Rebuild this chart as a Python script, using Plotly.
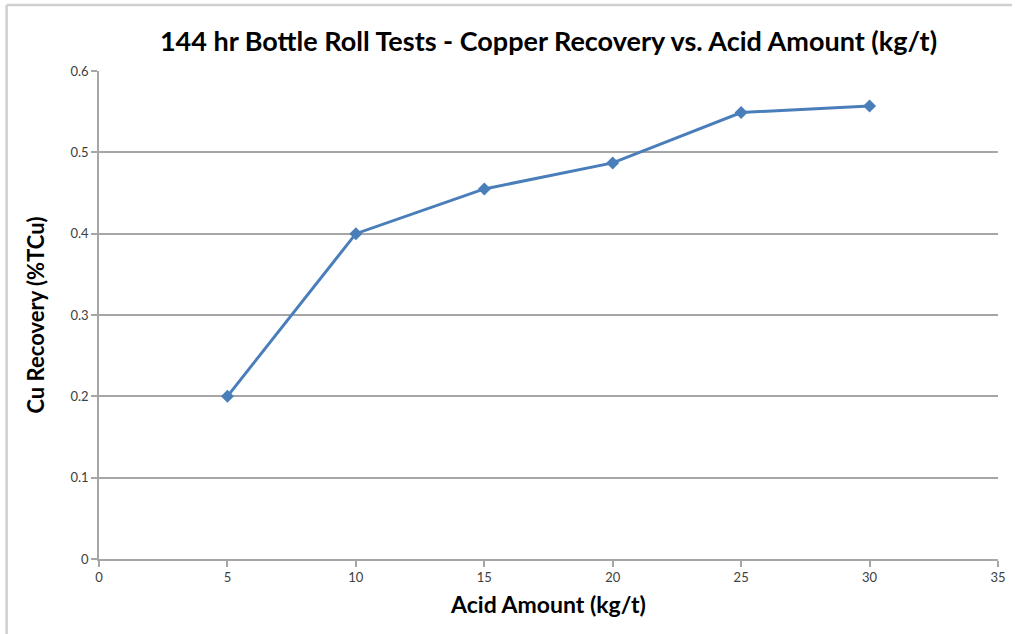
import plotly.graph_objects as go

# Acid addition (kg/t) and copper recovery (fraction of total Cu)
acid_kg_t = [5, 10, 15, 20, 25, 30]
cu_recovery = [0.200, 0.400, 0.455, 0.487, 0.549, 0.557]

x_ticks = [0, 5, 10, 15, 20, 25, 30, 35]
y_ticks = [0, 0.1, 0.2, 0.3, 0.4, 0.5, 0.6]

W, H = 1018, 634
L, R, T, B = 99, 14, 71, 75
pw, ph = W - L - R, H - T - B

def px_x(px):
    return (px - L) / pw

def px_y(py):
    return (H - B - py) / ph

line_color = "#4A7EBB"
fnt = "Lato, 'Open Sans', sans-serif"

fig = go.Figure()
fig.add_trace(go.Scatter(
    x=acid_kg_t, y=cu_recovery, mode="lines+markers",
    line=dict(color=line_color, width=3),
    marker=dict(symbol="diamond", size=10, color=line_color),
    showlegend=False, cliponaxis=False,
))

fig.update_layout(
    width=W, height=H,
    margin=dict(l=L, r=R, t=T, b=B),
    paper_bgcolor="white", plot_bgcolor="white",
    title=dict(text="<b>144 hr Bottle Roll Tests - Copper Recovery vs. Acid Amount (kg/t)</b>",
               xref="paper", x=0.5, xanchor="center", y=1 - 42 / H, yanchor="middle",
               font=dict(family=fnt, size=27, color="#000000")),
    xaxis=dict(range=[0, 35], tickvals=x_ticks, ticktext=[str(v) for v in x_ticks],
               showgrid=False, zeroline=False, showline=True, linecolor="#A6A6A6", linewidth=1.5,
               ticks="outside", ticklen=6, tickcolor="#A6A6A6", tickwidth=1.5,
               tickfont=dict(family=fnt, size=13, color="#404040"),
               title=dict(text="<b>Acid Amount (kg/t)</b>", standoff=13,
                          font=dict(family=fnt, size=23, color="#000000"))),
    yaxis=dict(range=[0, 0.6], tickvals=y_ticks, ticktext=["0", "0.1", "0.2", "0.3", "0.4", "0.5", "0.6"],
               showgrid=True, gridcolor="#A6A6A6", gridwidth=1.5, zeroline=False,
               showline=True, linecolor="#A6A6A6", linewidth=1.5,
               ticks="outside", ticklen=6, tickcolor="#A6A6A6", tickwidth=1.5,
               tickfont=dict(family=fnt, size=13, color="#404040"),
               title=dict(text="<b>Cu Recovery (%TCu)</b>", standoff=20,
                          font=dict(family=fnt, size=22, color="#000000"))),
)

# Light chart-area border along the left and top edges
fig.add_shape(type="line", xref="paper", yref="paper",
              x0=px_x(6), x1=px_x(6), y0=px_y(H), y1=px_y(5),
              line=dict(color="#D0D0D0", width=2.5))
fig.add_shape(type="line", xref="paper", yref="paper",
              x0=px_x(6), x1=px_x(W), y0=px_y(5), y1=px_y(5),
              line=dict(color="#D0D0D0", width=2.5))

fig.write_html("out.html")
